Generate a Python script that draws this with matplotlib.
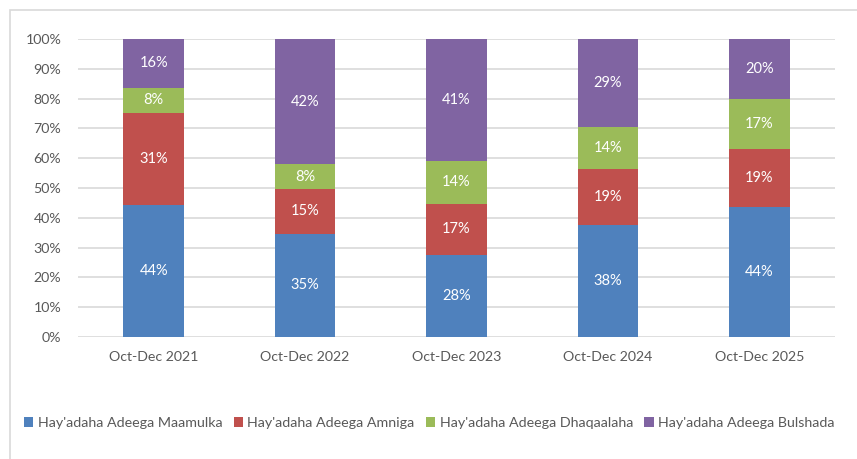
import numpy as np
import matplotlib.pyplot as plt
from matplotlib.patches import Rectangle

# Data (percent shares)
periods = ['Oct-Dec 2021', 'Oct-Dec 2022', 'Oct-Dec 2023', 'Oct-Dec 2024', 'Oct-Dec 2025']
series_names = ["Hay'adaha Adeega Maamulka", "Hay'adaha Adeega Amniga",
                "Hay'adaha Adeega Dhaqaalaha", "Hay'adaha Adeega Bulshada"]
maamulka = [44.3, 34.6, 27.6, 37.6, 43.7]
amniga = [31.0, 15.1, 17.1, 18.8, 19.3]
dhaqaalaha = [8.4, 8.3, 14.5, 14.2, 17.0]
bulshada = [16.3, 42.0, 40.8, 29.4, 20.0]

colors = ['#4F81BD', '#C0504D', '#9BBB59', '#8064A2']
text_color = '#595959'

plt.rcParams['font.family'] = ['Lato', 'DejaVu Sans']

fig = plt.figure(figsize=(8.57, 4.59), dpi=100)
ax = fig.add_axes([78 / 857, 1 - 337 / 459, (835 - 78) / 857, (337 - 39) / 459])

# Chart border
fig.patches.append(Rectangle((10 / 857, -0.1), 1.2, 1.1 - 10 / 459,
                             transform=fig.transFigure, fill=False,
                             edgecolor='#D9D9D9', linewidth=1.2))

x = np.arange(len(periods))
data = [maamulka, amniga, dhaqaalaha, bulshada]
bottom = np.zeros(len(periods))
for vals, name, color in zip(data, series_names, colors):
    vals = np.array(vals)
    ax.bar(x, vals, 0.4, bottom=bottom, color=color, label=name, zorder=3)
    for xi, b, v in zip(x, bottom, vals):
        ax.text(xi, b + v / 2, f'{round(v):.0f}%', ha='center', va='center',
                color='white', fontsize=10.5, zorder=4)
    bottom += vals

ax.set_xlim(-0.5, len(periods) - 0.5)
ax.set_ylim(0, 100)
ax.set_yticks(np.arange(0, 101, 10))
ax.set_yticklabels([f'{t}%' for t in range(0, 101, 10)])
ax.set_xticks(x)
ax.set_xticklabels(periods)
ax.tick_params(axis='both', length=0, colors=text_color, labelsize=10.2)
ax.tick_params(axis='x', pad=10)
ax.tick_params(axis='y', pad=12)
ax.grid(axis='y', color='#D9D9D9', linewidth=1.2, zorder=0)
for s in ax.spines.values():
    s.set_visible(False)

handles, labels = ax.get_legend_handles_labels()
fig.legend(handles, labels, loc='center left', bbox_to_anchor=(24 / 857, 1 - 423 / 459),
           ncol=4, frameon=False, fontsize=10.3, labelcolor=text_color,
           handlelength=0.65, handleheight=0.65, handletextpad=0.3, columnspacing=0.8,
           borderaxespad=0, borderpad=0)

plt.savefig('out.png', dpi=100)
plt.close()
